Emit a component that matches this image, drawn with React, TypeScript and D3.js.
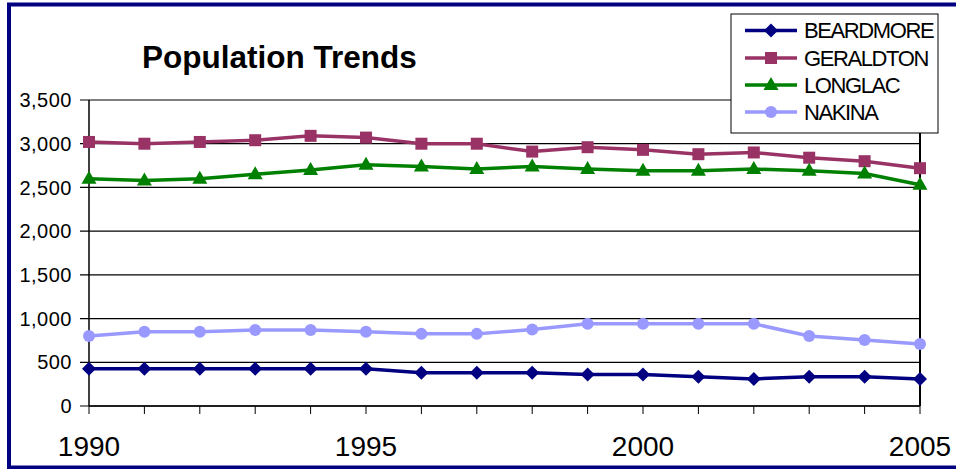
import React from "react";
import * as d3 from "d3";

const years = [1990, 1991, 1992, 1993, 1994, 1995, 1996, 1997, 1998, 1999, 2000, 2001, 2002, 2003, 2004, 2005];
const beardmore = [425, 425, 425, 425, 425, 425, 380, 380, 380, 360, 360, 335, 310, 335, 335, 310];
const geraldton = [3020, 3000, 3020, 3040, 3090, 3070, 3000, 3000, 2910, 2960, 2930, 2880, 2900, 2840, 2800, 2720];
const longlac = [2600, 2580, 2600, 2650, 2700, 2760, 2740, 2710, 2740, 2710, 2690, 2690, 2710, 2690, 2660, 2530];
const nakina = [800, 850, 850, 870, 870, 850, 825, 825, 875, 940, 940, 940, 940, 800, 755, 710];
const yTicks = [0, 500, 1000, 1500, 2000, 2500, 3000, 3500];
const xLabels = [1990, 1995, 2000, 2005];
const seriesNames = ["BEARDMORE", "GERALDTON", "LONGLAC", "NAKINA"];
const title = "Population Trends";

const series = [
  { name: seriesNames[0], values: beardmore, color: "#000080", marker: "diamond" },
  { name: seriesNames[1], values: geraldton, color: "#993366", marker: "square" },
  { name: seriesNames[2], values: longlac, color: "#008000", marker: "triangle" },
  { name: seriesNames[3], values: nakina, color: "#9999FF", marker: "circle" },
];

const W = 956, H = 469;
const left = 89, right = 920, top = 100, bottom = 406;

function Marker({ type, x, y, color }: { type: string; x: number; y: number; color: string }) {
  if (type === "diamond") {
    const s = 7;
    return <path d={`M${x},${y - s}L${x + s},${y}L${x},${y + s}L${x - s},${y}Z`} fill={color} />;
  }
  if (type === "square") {
    return <rect x={x - 6} y={y - 6} width={12} height={12} fill={color} />;
  }
  if (type === "triangle") {
    return <path d={`M${x},${y - 8}L${x + 7.5},${y + 5}L${x - 7.5},${y + 5}Z`} fill={color} />;
  }
  return <circle cx={x} cy={y} r={6} fill={color} />;
}

export default function App() {
  const x = d3.scaleLinear().domain([years[0], years[years.length - 1]]).range([left, right]);
  const y = d3.scaleLinear().domain([0, 3500]).range([bottom, top]);
  const line = d3.line<number>().x((_, i) => x(years[i])).y((v) => y(v));
  const font = "Arial, 'Liberation Sans', sans-serif";

  const legX = 731, legY = 14, legW = 207, legH = 119;
  const rowY = [30.5, 58, 85, 112];

  return (
    <svg width={W} height={H} style={{ position: "absolute", left: 0, top: 0 }} fontFamily={font}>
      <rect x={0} y={0} width={W} height={H} fill="#fff" />
      {yTicks.map((t) => (
        <line key={"g" + t} x1={left - 9} x2={right} y1={y(t)} y2={y(t)} stroke="#000" strokeWidth={1.2} />
      ))}
      <line x1={right} x2={right} y1={top} y2={bottom} stroke="#000" strokeWidth={2} />
      <line x1={left} x2={left} y1={top} y2={bottom} stroke="#000" strokeWidth={1.5} />
      <line x1={left} x2={right} y1={bottom} y2={bottom} stroke="#000" strokeWidth={1.5} />
      {years.map((yr) => (
        <line key={"t" + yr} x1={x(yr)} x2={x(yr)} y1={bottom} y2={bottom + 8} stroke="#000" strokeWidth={1} />
      ))}
      {yTicks.map((t) => (
        <text key={"yl" + t} x={72} y={y(t)} dy="0.36em" textAnchor="end" fontSize={20} letterSpacing={0.5} fill="#000">
          {d3.format(",")(t)}
        </text>
      ))}
      {xLabels.map((yr) => (
        <text key={"xl" + yr} x={x(yr)} y={456} textAnchor="middle" fontSize={28} fill="#000">
          {yr}
        </text>
      ))}
      {series.map((s) => (
        <g key={s.name}>
          <path d={line(s.values) || ""} fill="none" stroke={s.color} strokeWidth={3.5} />
          {s.values.map((v, i) => (
            <Marker key={i} type={s.marker} x={x(years[i])} y={y(v)} color={s.color} />
          ))}
        </g>
      ))}
      <text x={142} y={68} fontSize={31.5} fontWeight="bold" fill="#000">{title}</text>
      <rect x={legX} y={legY} width={legW} height={legH} fill="#fff" stroke="#000" strokeWidth={1} />
      {series.map((s, i) => (
        <g key={"lg" + s.name}>
          <line x1={745} x2={797} y1={rowY[i]} y2={rowY[i]} stroke={s.color} strokeWidth={3.5} />
          <Marker type={s.marker} x={771} y={rowY[i]} color={s.color} />
          <text x={804} y={rowY[i]} dy="0.36em" fontSize={22} letterSpacing={-1.4} fill="#000">{s.name}</text>
        </g>
      ))}
      <rect x={9} y={4.5} width={1000} height={463} fill="none" stroke="#000080" strokeWidth={4} />
    </svg>
  );
}
